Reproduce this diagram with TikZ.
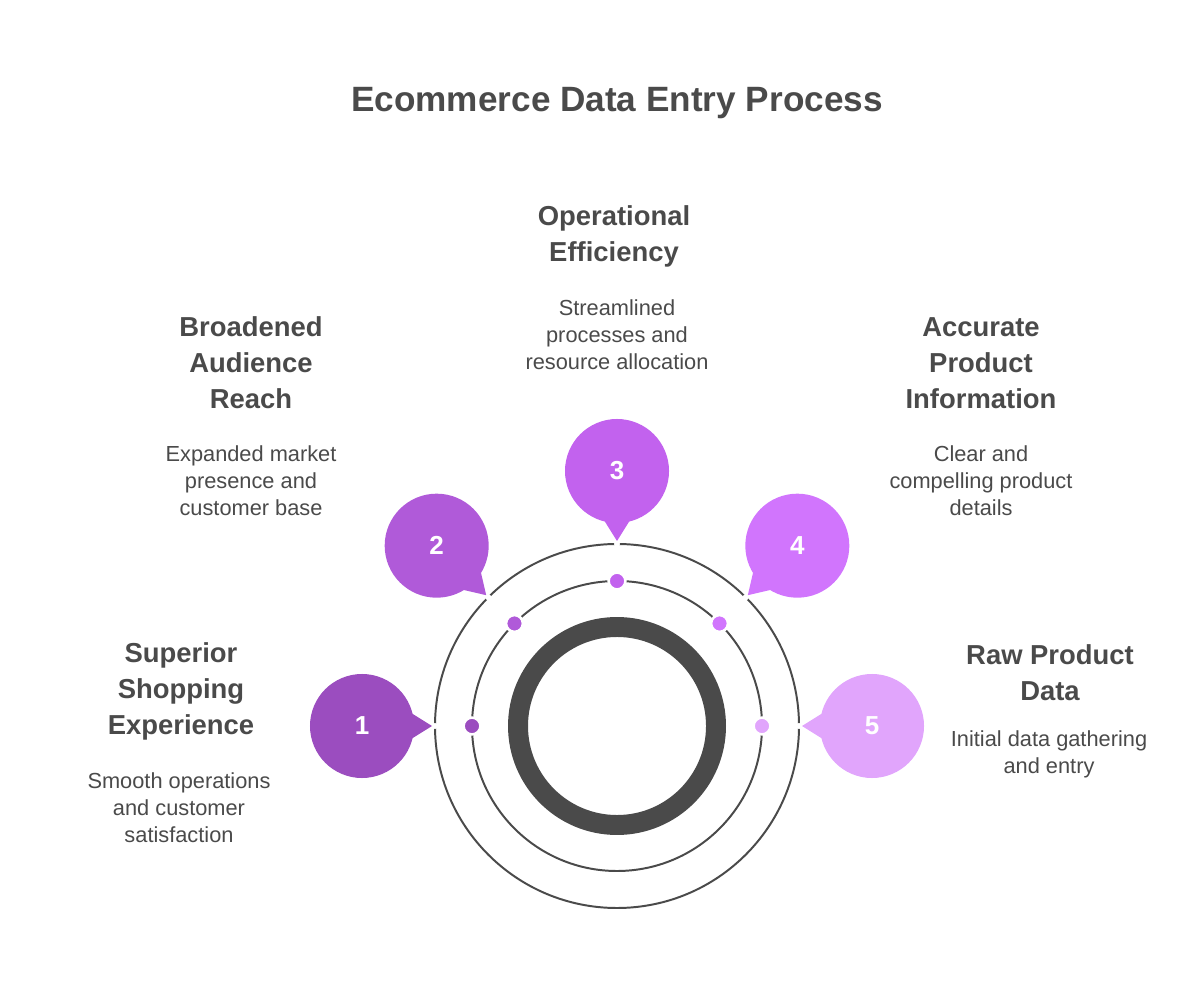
\documentclass[tikz,border=0pt]{standalone}
\usepackage{fontspec}
\setmainfont{Liberation Sans}
\usetikzlibrary{positioning}
\definecolor{ink}{HTML}{4A4A4A}
\definecolor{pone}{HTML}{9B4DBF}
\definecolor{ptwo}{HTML}{B05AD9}
\definecolor{pthree}{HTML}{C262EE}
\definecolor{pfour}{HTML}{D175FD}
\definecolor{pfive}{HTML}{E1A5FC}
\begin{document}
\begin{tikzpicture}[x=0.025cm,y=0.025cm,
  bubble/.style={circle,minimum size=2.6cm,inner sep=0pt,text=white,font=\fontsize{18.5}{18.5}\selectfont\bfseries},
  dot/.style={circle,minimum size=0.42cm,inner sep=0pt,draw=white,line width=1.8pt},
  head/.style={align=center,text=ink,font=\fontsize{19.5}{25.6}\selectfont\bfseries},
  desc/.style={align=center,text=ink,font=\fontsize{15.5}{19.2}\selectfont}]
\useasboundingbox (0,0) rectangle (1200,1000);
\coordinate (c) at (617,274);
\node[text=ink,font=\fontsize{25}{30}\selectfont\bfseries] (title) at (617,897) {Ecommerce Data Entry Process};

% rings
\draw[ink,line width=1.4pt] (c) circle (182);
\draw[ink,line width=1.4pt] (c) circle (145);
\draw[ink,line width=14.2pt] (c) circle (99);

% bubbles and dots
\foreach \a/\n/\col in {180/1/pone,135/2/ptwo,90/3/pthree,45/4/pfour,0/5/pfive}
{
    \node[dot,fill=\col] (d\n) at ([shift={(\a:145)}]c) {};
    \fill[white] ([shift={(\a:182)}]c) circle (3);
    \coordinate (t\n) at ([shift={(\a:185)}]c);
    \fill[\col] (t\n)--([shift={(\a+5:216)}]c)--([shift={(\a-5:216)}]c)--cycle;
    \node[bubble,fill=\col] (b\n) at ([shift={(\a:255)}]c) {\n};
}

% labels
\node[head] (h1) at (181,309) {Superior\\Shopping\\Experience};
\node[desc] (s1) at (179,192) {Smooth operations\\and customer\\satisfaction};
\node[head] (h2) at (251,637) {Broadened\\Audience\\Reach};
\node[desc] (s2) at (251,519) {Expanded market\\presence and\\customer base};
\node[head] (h3) at (614,764) {Operational\\Efficiency};
\node[desc] (s3) at (617,665) {Streamlined\\processes and\\resource allocation};
\node[head] (h4) at (981,637) {Accurate\\Product\\Information};
\node[desc] (s4) at (981,519) {Clear and\\compelling product\\details};
\node[head] (h5) at (1050,327) {Raw Product\\Data};
\node[desc] (s5) at (1049,245.5) {Initial data gathering\\and entry};

\end{tikzpicture}
\end{document}
